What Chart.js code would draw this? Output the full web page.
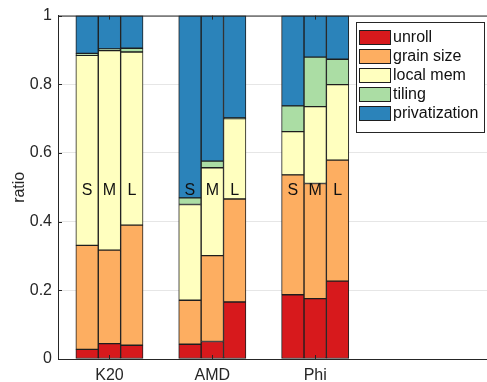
<!DOCTYPE html>
<html>
<head>
<meta charset="utf-8">
<script src="https://cdn.jsdelivr.net/npm/chart.js@4"></script>
<style>
  html, body { margin: 0; padding: 0; background: #fff; }
</style>
</head>
<body>
<canvas id="chart" width="487" height="382"></canvas>
<script>
var groups = ['K20', 'AMD', 'Phi'];
var sizes = ['S', 'M', 'L'];
var series = ['unroll', 'grain size', 'local mem', 'tiling', 'privatization'];
var colors = ['#d7191c', '#fdae61', '#ffffbf', '#abdda4', '#2b83ba'];

// rows: S, M, L   columns: K20, AMD, Phi
var unroll = [[0.028, 0.043, 0.187], [0.045, 0.051, 0.176], [0.040, 0.166, 0.227]];
var grainSize = [[0.303, 0.128, 0.349], [0.272, 0.250, 0.335], [0.350, 0.300, 0.352]];
var localMem = [[0.553, 0.279, 0.126], [0.581, 0.256, 0.224], [0.504, 0.234, 0.220]];
var tiling = [[0.006, 0.019, 0.075], [0.005, 0.019, 0.144], [0.011, 0.002, 0.074]];
var privatization = [[0.110, 0.531, 0.263], [0.097, 0.424, 0.121], [0.095, 0.298, 0.127]];

var yTicks = [0, 0.2, 0.4, 0.6, 0.8, 1];
var values = [unroll, grainSize, localMem, tiling, privatization];
var font = '"Liberation Sans", Arial, Helvetica, sans-serif';
var ink = '#262626';

var datasets = [];
sizes.forEach(function (s, si) {
	series.forEach(function (name, k) {
		datasets.push({
			label: name,
			stack: s,
			data: values[k][si],
			backgroundColor: colors[k],
			borderColor: '#1e1e1e',
			borderWidth: 1,
			borderSkipped: false,
			barThickness: 22.4
		});
	});
});

// box top line, inward ticks, S/M/L labels, legend
var extras = {
	id: 'extras',
	afterDatasetsDraw: function (chart) {
		var ctx = chart.ctx, a = chart.chartArea;
		var xs = chart.scales.x, ys = chart.scales.y;
		ctx.save();
		ctx.strokeStyle = ink;
		ctx.lineWidth = 1;
		ctx.beginPath();
		ctx.moveTo(a.left, a.top + 0.5);
		ctx.lineTo(a.right, a.top + 0.5);
		yTicks.forEach(function (v) {
			var y = Math.round(ys.getPixelForValue(v)) + 0.5;
			ctx.moveTo(a.left, y);
			ctx.lineTo(a.left + 4, y);
		});
		groups.forEach(function (g, gi) {
			var x = Math.round(xs.getPixelForValue(gi)) + 0.5;
			ctx.moveTo(x, a.bottom);
			ctx.lineTo(x, a.bottom - 4);
			ctx.moveTo(x, a.top);
			ctx.lineTo(x, a.top + 4);
		});
		ctx.stroke();

		// size labels on the bars
		ctx.fillStyle = '#111';
		ctx.font = '16px ' + font;
		ctx.textAlign = 'center';
		ctx.textBaseline = 'middle';
		sizes.forEach(function (s, si) {
			var meta = chart.getDatasetMeta(si * series.length);
			meta.data.forEach(function (bar) {
				ctx.fillText(s, bar.x, ys.getPixelForValue(0.49));
			});
		});

		// legend
		var lx = 356.5, ly = 22.5;
		ctx.fillStyle = '#fff';
		ctx.fillRect(lx, ly, 128, 110);
		ctx.strokeStyle = ink;
		ctx.strokeRect(lx, ly, 128, 110);
		ctx.textAlign = 'left';
		series.forEach(function (name, k) {
			var top = 30.5 + k * 19;
			ctx.fillStyle = colors[k];
			ctx.fillRect(359.5, top, 31, 14);
			ctx.strokeStyle = '#1e1e1e';
			ctx.strokeRect(359.5, top, 31, 14);
			ctx.fillStyle = '#111';
			ctx.fillText(name, 393, top + 7.5);
		});
		ctx.restore();
	}
};

new Chart(document.getElementById('chart').getContext('2d'), {
	type: 'bar',
	data: { labels: groups, datasets: datasets },
	options: {
		responsive: false,
		animation: false,
		layout: { padding: { top: 15, right: 0, left: 0, bottom: 0 } },
		plugins: {
			legend: { display: false },
			tooltip: { enabled: false }
		},
		scales: {
			x: {
				afterBuildTicks: function (axis) {
					// x range 0.5 .. 4.67 in group units, right part left empty
					axis._startValue = -0.5;
					axis._valueRange = 4.17;
				},
				afterFit: function (axis) { axis.height = 23; },
				grid: { display: false, drawTicks: false },
				border: { display: true, color: ink, width: 1 },
				ticks: {
					padding: 7,
					color: ink,
					font: { family: font, size: 16 },
					maxRotation: 0
				}
			},
			y: {
				min: 0,
				max: 1,
				stacked: true,
				afterBuildTicks: function (axis) {
					axis.ticks = yTicks.map(function (v) { return { value: v }; });
				},
				afterFit: function (axis) { axis.width = 58; },
				grid: { color: '#e6e6e6', drawTicks: false },
				border: { display: true, color: ink, width: 1 },
				ticks: {
					padding: 6,
					color: ink,
					font: { family: font, size: 16 },
					callback: function (v) { return String(+v.toFixed(1)); }
				},
				title: {
					display: true,
					text: 'ratio',
					color: ink,
					font: { family: font, size: 16 },
					padding: { top: 10, bottom: 0 }
				}
			}
		}
	},
	plugins: [extras]
});
</script>
</body>
</html>
